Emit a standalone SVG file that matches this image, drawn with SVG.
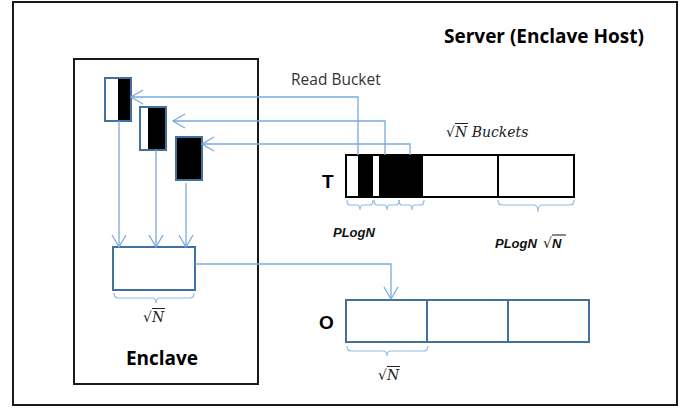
<svg xmlns="http://www.w3.org/2000/svg" width="681" height="409" viewBox="0 0 681 409">
  <defs>
    <marker id="vee" viewBox="-14 -8 16 16" markerWidth="16" markerHeight="16" refX="0" refY="0" orient="auto" markerUnits="userSpaceOnUse">
      <path d="M-12,-7 L0,0 L-12,7" fill="none" stroke="#7aaade" stroke-width="1.3"/>
    </marker>
  </defs>
  <style>
    .frame { fill: #ffffff; stroke: #1a1a1a; stroke-width: 2; }
    .cell { fill: #ffffff; stroke: #41719c; stroke-width: 2; }
    .fill { fill: #000000; }
    .conn { fill: none; stroke: #7aaade; stroke-width: 1.3; }
    .brace { fill: none; stroke: #8dbbe8; stroke-width: 1.2; }
    .title { font-family: "Open Sans", "Liberation Sans", sans-serif; font-weight: bold; font-size: 19px; fill: #000; }
    .label { font-family: "Liberation Sans", sans-serif; font-weight: bold; font-size: 19px; fill: #000; }
    .note { font-family: "Open Sans", "Liberation Sans", sans-serif; font-size: 15.5px; fill: #333; }
    .math { font-family: "DejaVu Serif", "Liberation Serif", serif; font-style: italic; font-size: 14px; fill: #222; }
    .mathb { font-family: "Liberation Sans", sans-serif; font-style: italic; font-weight: bold; font-size: 13px; fill: #111; }
    .rad { font-family: "DejaVu Serif", serif; font-size: 14px; fill: #222; }
  </style>

  <!-- host machine -->
  <g id="server">
    <rect class="frame" x="13" y="2" width="664" height="403"/>
    <text class="title" x="444" y="43">Server (Enclave Host)</text>
  </g>

  <!-- trusted enclave -->
  <g id="enclave">
    <rect class="frame" x="74" y="59" width="184" height="325"/>
    <text class="title" x="162" y="365" text-anchor="middle">Enclave</text>
  </g>

  <!-- buckets loaded into the enclave -->
  <g id="bucket-1">
    <rect class="cell" x="105" y="78" width="26" height="43"/>
    <rect class="fill" x="118" y="79" width="12" height="41"/>
  </g>
  <g id="bucket-2">
    <rect class="cell" x="140" y="107" width="26" height="43"/>
    <rect class="fill" x="148" y="108" width="17" height="41"/>
  </g>
  <g id="bucket-3">
    <rect class="cell" x="176" y="137" width="26" height="43"/>
    <rect class="fill" x="177" y="138" width="24" height="41"/>
  </g>

  <!-- enclave output buffer -->
  <g id="buffer">
    <rect class="cell" x="113" y="247" width="82" height="43"/>
    <path class="brace" d="M114,293 q0,5 4,5 H152 q4,0 4,5 q0,-5 4,-5 H190 q4,0 4,-5"/>
    <text class="rad" x="143" y="322">√</text>
    <line x1="152" y1="308.5" x2="165" y2="308.5" stroke="#222" stroke-width="1"/>
    <text class="math" x="152" y="322">N</text>
  </g>

  <!-- table T -->
  <g id="table-t">
    <text class="label" x="322" y="188">T</text>
    <rect class="fill" x="358" y="155" width="15" height="42"/>
    <rect class="fill" x="379" y="155" width="44" height="42"/>
    <rect x="346" y="155" width="228" height="42" fill="none" stroke="#000" stroke-width="2"/>
    <line x1="498" y1="155" x2="498" y2="197" stroke="#000" stroke-width="2"/>
    <path class="brace" d="M347,200 q0,5 3,5 H357 q3,0 3,5 q0,-5 3,-5 H370 q3,0 3,-5"/>
    <path class="brace" d="M374,200 q0,5 3,5 H384 q3,0 3,5 q0,-5 3,-5 H396 q3,0 3,-5"/>
    <path class="brace" d="M399,200 q0,5 3,5 H409 q3,0 3,5 q0,-5 3,-5 H421 q3,0 3,-5"/>
    <path class="brace" d="M498,200 q0,5 4,5 H534 q4,0 4,7 q0,-7 4,-7 H570 q4,0 4,-5"/>
    <text class="mathb" x="333" y="237">PLogN</text>
    <text class="mathb" x="495" y="248">PLogN</text>
    <text class="rad" x="543" y="248">√</text>
    <line x1="552" y1="235" x2="566" y2="235" stroke="#111" stroke-width="1"/>
    <text class="mathb" x="552" y="248">N</text>
    <text class="rad" x="446" y="137">√</text>
    <line x1="455" y1="123.5" x2="468" y2="123.5" stroke="#222" stroke-width="1"/>
    <text class="math" x="455" y="137">N Buckets</text>
  </g>

  <!-- output table O -->
  <g id="table-o">
    <text class="label" x="319" y="329">O</text>
    <rect class="cell" x="346" y="300" width="243" height="42"/>
    <line x1="427" y1="300" x2="427" y2="342" stroke="#41719c" stroke-width="2"/>
    <line x1="508" y1="300" x2="508" y2="342" stroke="#41719c" stroke-width="2"/>
    <path class="brace" d="M347,346 q0,5 4,5 H383 q4,0 4,5 q0,-5 4,-5 H424 q4,0 4,-5"/>
    <text class="rad" x="378" y="380">√</text>
    <line x1="387" y1="366.5" x2="400" y2="366.5" stroke="#222" stroke-width="1"/>
    <text class="math" x="387" y="380">N</text>
  </g>

  <!-- data movement -->
  <g id="connectors">
    <text class="note" x="291" y="85">Read Bucket</text>
    <path class="conn" d="M358,155 V97 H131" marker-end="url(#vee)"/>
    <path class="conn" d="M385,155 V121 H173" marker-end="url(#vee)"/>
    <path class="conn" d="M410,155 V144 H202" marker-end="url(#vee)"/>
    <path class="conn" d="M119,121 V247" marker-end="url(#vee)"/>
    <path class="conn" d="M156,150 V247" marker-end="url(#vee)"/>
    <path class="conn" d="M186,183 V247" marker-end="url(#vee)"/>
    <path class="conn" d="M195,264 H391 V299" marker-end="url(#vee)"/>
  </g>
</svg>
